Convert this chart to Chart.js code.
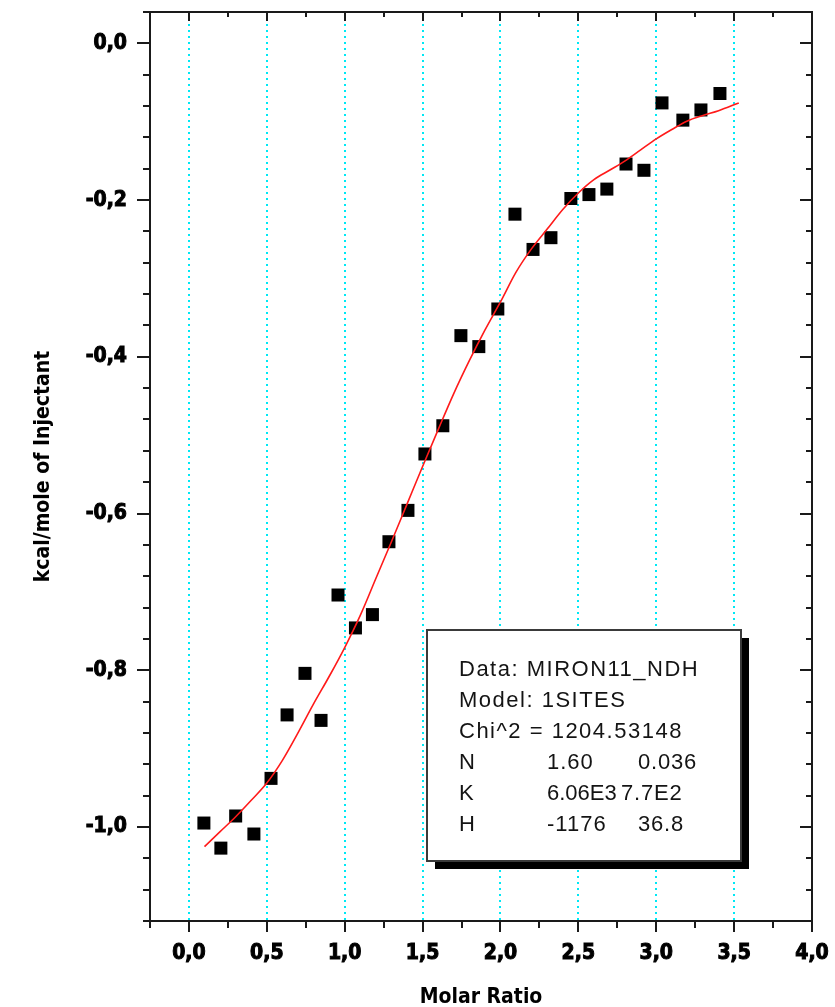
<!DOCTYPE html>
<html>
<head>
<meta charset="utf-8">
<script src="https://cdn.jsdelivr.net/npm/chart.js@4.4.1/dist/chart.umd.min.js"></script>
<style>
  html, body { margin: 0; padding: 0; background: #ffffff; }
  #wrap { width: 835px; height: 1007px; }
</style>
</head>
<body>
<div id="wrap"><canvas id="c" width="835" height="1007"></canvas></div>
<script>
// ---- data ----
const ratioX = [0.096, 0.205, 0.30, 0.417, 0.527, 0.630, 0.745, 0.848, 0.957, 1.069, 1.178, 1.284, 1.406, 1.515, 1.630, 1.746, 1.861, 1.983, 2.093, 2.209, 2.324, 2.452, 2.568, 2.683, 2.806, 2.921, 3.037, 3.171, 3.287, 3.409];
const heatY  = [-0.995, -1.027, -0.986, -1.009, -0.938, -0.857, -0.804, -0.864, -0.704, -0.746, -0.729, -0.636, -0.596, -0.524, -0.488, -0.373, -0.387, -0.339, -0.218, -0.263, -0.248, -0.198, -0.193, -0.186, -0.154, -0.162, -0.076, -0.098, -0.085, -0.064];

const fitX = [0.10, 0.20, 0.30, 0.40, 0.50, 0.60, 0.70, 0.80, 0.90, 1.00, 1.10, 1.20, 1.30, 1.40, 1.50, 1.60, 1.70, 1.80, 1.90, 2.00, 2.10, 2.20, 2.30, 2.40, 2.50, 2.60, 2.70, 2.80, 2.90, 3.00, 3.10, 3.20, 3.30, 3.40, 3.53];
const fitY = [-1.025, -1.006, -0.987, -0.966, -0.944, -0.915, -0.880, -0.843, -0.808, -0.771, -0.730, -0.683, -0.636, -0.588, -0.540, -0.493, -0.447, -0.405, -0.366, -0.330, -0.292, -0.262, -0.237, -0.212, -0.191, -0.174, -0.162, -0.150, -0.136, -0.122, -0.110, -0.099, -0.092, -0.086, -0.076];

const xMajorTicks = [0.0, 0.5, 1.0, 1.5, 2.0, 2.5, 3.0, 3.5, 4.0];
const yMajorTicks = [0.0, -0.2, -0.4, -0.6, -0.8, -1.0];

const xTitle = 'Molar Ratio';
const yTitle = 'kcal/mole of Injectant';

const fitLines = [
  ['Data: MIRON11_NDH'],
  ['Model: 1SITES'],
  ['Chi^2 = 1204.53148'],
  ['N', '1.60', '0.036'],
  ['K', '6.06E3', '7.7E2'],
  ['H', '-1176', '36.8']
];

// ---- helpers ----
const isMajor = (v, list) => list.some(m => Math.abs(m - v) < 1e-6);
const fmt = v => (Math.abs(v) < 1e-9 ? 0 : v).toFixed(1).replace('.', ',');

const tickFont = { family: 'DejaVu Sans Condensed', weight: 'bold', size: 21, lineHeight: 1 };
const titleFont = { family: 'DejaVu Sans Condensed', weight: 'bold', size: 21, lineHeight: 1 };

const framePlugin = {
  id: 'frame',
  afterDraw(chart) {
    const ctx = chart.ctx;
    const a = chart.chartArea;
    const xs = chart.scales.x, ys = chart.scales.y;
    ctx.save();
    ctx.strokeStyle = '#1a1a1a';
    ctx.lineWidth = 2;
    ctx.beginPath();
    ctx.moveTo(a.left - 1, a.top);
    ctx.lineTo(a.right, a.top);
    ctx.lineTo(a.right, a.bottom + 1);
    ctx.stroke();
    ctx.beginPath();
    xs.ticks.forEach(t => {
      const px = Math.round(xs.getPixelForValue(t.value));
      const maj = isMajor(t.value, xMajorTicks);
      ctx.moveTo(px, a.bottom);
      ctx.lineTo(px, a.bottom + (maj ? 11 : 7));
      ctx.moveTo(px, a.top);
      ctx.lineTo(px, a.top + (maj ? 9 : 5));
    });
    ys.ticks.forEach(t => {
      const py = Math.round(ys.getPixelForValue(t.value));
      const maj = isMajor(t.value, yMajorTicks);
      ctx.moveTo(a.left, py);
      ctx.lineTo(a.left - (maj ? 13 : 7), py);
      ctx.moveTo(a.right, py);
      ctx.lineTo(a.right - (maj ? 12 : 6), py);
    });
    ctx.stroke();

    // fit results box
    const bx = 427, by = 630, bw = 314, bh = 231;
    ctx.fillStyle = '#000000';
    ctx.fillRect(bx + 8, by + 8, bw, bh);
    ctx.fillStyle = '#ffffff';
    ctx.fillRect(bx, by, bw, bh);
    ctx.strokeStyle = '#3a3a3a';
    ctx.lineWidth = 2;
    ctx.strokeRect(bx, by, bw, bh);

    ctx.fillStyle = '#141414';
    ctx.font = '22px "Liberation Sans"';
    ctx.textBaseline = 'alphabetic';
    ctx.textAlign = 'left';
    fitLines.forEach((row, i) => {
      const y = by + 46 + i * 31;
      if (row.length === 1) {
        ctx.letterSpacing = '1.5px';
        ctx.fillText(row[0], 459, y);
      } else {
        ctx.letterSpacing = '0px';
        ctx.fillText(row[0], 459, y);
        ctx.letterSpacing = row[0] === 'K' ? '0px' : '1px';
        ctx.fillText(row[1], 547, y);
        ctx.letterSpacing = '0.8px';
        ctx.fillText(row[2], row[0] === 'K' ? 621 : 638, y);
      }
    });
    ctx.letterSpacing = '0px';
    ctx.restore();
  }
};

const ctx = document.getElementById('c').getContext('2d');
new Chart(ctx, {
  type: 'scatter',
  data: {
    datasets: [
      {
        label: 'Fit',
        data: fitX.map((x, i) => ({ x: x, y: fitY[i] })),
        showLine: true,
        pointRadius: 0,
        borderColor: '#ff1a1a',
        borderWidth: 1.6,
        cubicInterpolationMode: 'monotone',
        fill: false,
        order: 0
      },
      {
        label: 'Data',
        data: ratioX.map((x, i) => ({ x: x, y: heatY[i] })),
        showLine: false,
        pointStyle: 'rect',
        pointRadius: 9.2,
        pointHoverRadius: 9.2,
        backgroundColor: '#000000',
        borderColor: '#000000',
        borderWidth: 0,
        order: 1
      }
    ]
  },
  options: {
    responsive: false,
    animation: false,
    events: [],
    layout: { padding: { top: 12, right: 23, bottom: 0, left: 0 } },
    plugins: {
      legend: { display: false },
      tooltip: { enabled: false },
      title: { display: false }
    },
    scales: {
      x: {
        type: 'linear',
        position: 'bottom',
        min: -0.25,
        max: 4.0,
        afterFit(scale) { scale.height = 86; scale.paddingLeft = 0; scale.paddingRight = 0; },
        ticks: {
          stepSize: 0.25,
          autoSkip: false,
          maxRotation: 0,
          padding: 22,
          color: '#000000',
          textStrokeColor: '#000000',
          textStrokeWidth: 1,
          font: tickFont,
          callback: v => isMajor(v, xMajorTicks) ? fmt(v) : ''
        },
        grid: {
          drawTicks: false,
          lineWidth: 2,
          color: c => {
            const v = c.tick ? c.tick.value : null;
            return (v !== null && isMajor(v, xMajorTicks) && v < 3.9) ? 'rgb(0,232,245)' : 'rgba(0,0,0,0)';
          }
        },
        border: { display: true, color: '#1a1a1a', width: 2, dash: [2, 4] },
        title: {
          display: true,
          text: xTitle,
          color: '#000000',
          font: titleFont,
          padding: { top: 0, bottom: -1 }
        }
      },
      y: {
        type: 'linear',
        position: 'left',
        min: -1.12,
        max: 0.04,
        afterFit(scale) { scale.width = 150; scale.paddingTop = 0; scale.paddingBottom = 0; },
        ticks: {
          stepSize: 0.04,
          autoSkip: false,
          padding: 23,
          color: '#000000',
          textStrokeColor: '#000000',
          textStrokeWidth: 1,
          font: tickFont,
          callback: v => isMajor(v, yMajorTicks) ? fmt(v) : ''
        },
        grid: { display: false, drawTicks: false },
        border: { display: true, color: '#1a1a1a', width: 2 },
        title: {
          display: true,
          text: yTitle,
          color: '#000000',
          font: titleFont,
          padding: { top: 33, bottom: 0 }
        }
      }
    }
  },
  plugins: [framePlugin]
});
</script>
</body>
</html>
